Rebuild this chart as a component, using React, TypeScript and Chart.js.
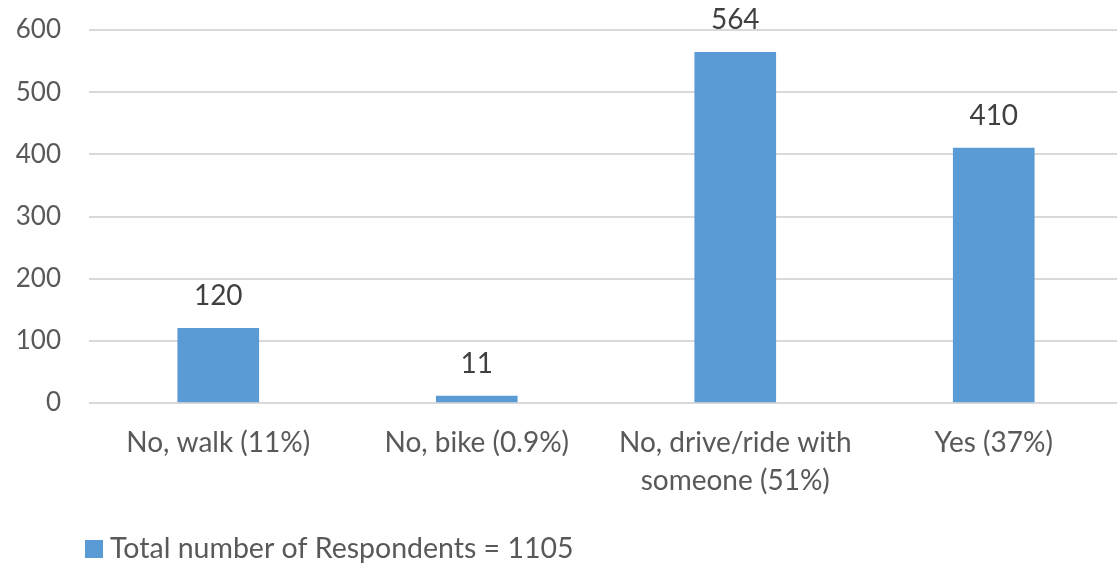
import React, { useEffect, useRef } from "react";
import { Chart, registerables } from "chart.js";

Chart.register(...registerables);

const categories: (string | string[])[] = [
  "No, walk (11%)",
  "No, bike (0.9%)",
  ["No, drive/ride with", "someone (51%)"],
  "Yes (37%)",
];
const respondents = [120, 11, 564, 410];
const seriesLabel = "Total number of Respondents = 1105";
const yTicks = [0, 100, 200, 300, 400, 500, 600];

const FONT = "Lato, 'Open Sans', sans-serif";
const BAR_COLOR = "#5B9BD5";
const TEXT_COLOR = "#595959";

// Writes each bar's value above it
const valueLabels = {
  id: "valueLabels",
  afterDatasetsDraw(chart: any) {
    const ctx = chart.ctx;
    const meta = chart.getDatasetMeta(0);
    const data = chart.data.datasets[0].data as number[];
    ctx.save();
    ctx.font = `28px ${FONT}`;
    ctx.fillStyle = "#404040";
    ctx.textAlign = "center";
    ctx.textBaseline = "alphabetic";
    meta.data.forEach((bar: any, i: number) => {
      ctx.fillText(String(data[i]), bar.x, bar.y - 23);
    });
    ctx.restore();
  },
};

// Legend row below the axis, aligned with the plot's left edge
const bottomLegend = {
  id: "bottomLegend",
  afterDraw(chart: any) {
    const ctx = chart.ctx;
    const ds = chart.data.datasets[0];
    const x0 = chart.chartArea.left - 4;
    const yMid = 549;
    ctx.save();
    ctx.fillStyle = ds.backgroundColor;
    ctx.fillRect(x0, yMid - 9, 18, 18);
    ctx.font = `28.5px ${FONT}`;
    ctx.fillStyle = TEXT_COLOR;
    ctx.textAlign = "left";
    ctx.textBaseline = "middle";
    ctx.fillText(ds.label, x0 + 25, yMid);
    ctx.restore();
  },
};

export default function App() {
  const canvasRef = useRef<HTMLCanvasElement | null>(null);

  useEffect(() => {
    if (!canvasRef.current) return;
    const chart = new Chart(canvasRef.current, {
      type: "bar",
      data: {
        labels: categories,
        datasets: [
          {
            label: seriesLabel,
            data: respondents,
            backgroundColor: BAR_COLOR,
            borderWidth: 0,
            barThickness: 81,
          },
        ],
      },
      plugins: [valueLabels, bottomLegend],
      options: {
        responsive: false,
        animation: false,
        layout: { padding: { top: 30, right: 0, bottom: 0, left: 0 } },
        plugins: {
          legend: { display: false },
          tooltip: { enabled: false },
        },
        scales: {
          x: {
            grid: { display: false, drawTicks: false },
            border: { display: false },
            ticks: {
              color: TEXT_COLOR,
              font: { family: FONT, size: 28, lineHeight: "38px" } as any,
              padding: 21,
              maxRotation: 0,
              autoSkip: false,
            },
            afterFit(scale: any) {
              scale.height = 161;
            },
          },
          y: {
            min: 0,
            max: 600,
            afterBuildTicks(scale: any) {
              scale.ticks = yTicks.map((v) => ({ value: v }));
            },
            grid: { color: "#D9D9D9", lineWidth: 2, drawTicks: false },
            border: { display: false },
            ticks: {
              color: TEXT_COLOR,
              font: { family: FONT, size: 26 },
              padding: 28,
            },
            afterFit(scale: any) {
              scale.width = 89;
              scale.paddingTop = 0;
              scale.paddingBottom = 0;
            },
          },
        },
      },
    });
    return () => chart.destroy();
  }, []);

  return (
    <div
      style={{
        position: "fixed",
        left: 0,
        top: 0,
        width: 1117,
        height: 564,
        overflow: "hidden",
        background: "#fff",
      }}
    >
      <canvas ref={canvasRef} width={1123} height={564} />
    </div>
  );
}
